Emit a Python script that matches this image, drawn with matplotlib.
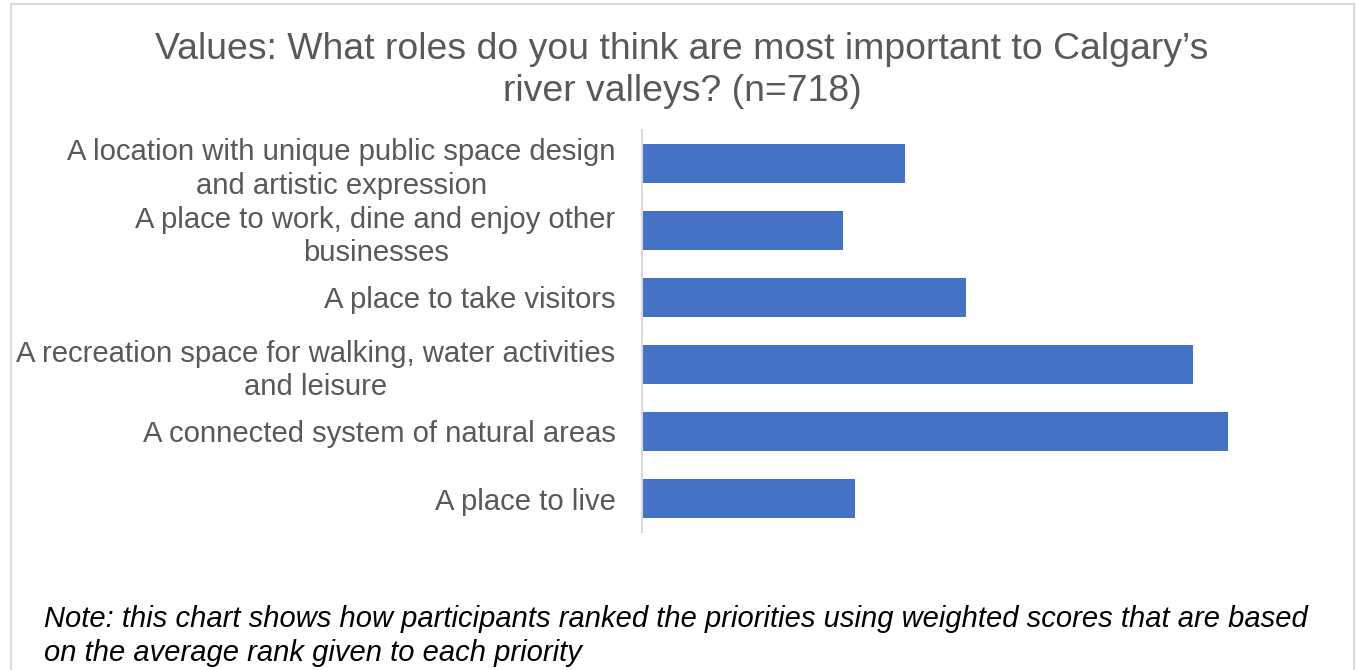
import matplotlib
matplotlib.use("Agg")
import matplotlib.pyplot as plt
from matplotlib.patches import Rectangle

categories = [
    "A location with unique public space design\nand artistic expression",
    "A place to work, dine and enjoy other\nbusinesses",
    "A place to take visitors",
    "A recreation space for walking, water activities\nand leisure",
    "A connected system of natural areas",
    "A place to live",
]
scores = [2.63, 2.01, 3.24, 5.51, 5.86, 2.13]

title = "Values: What roles do you think are most important to Calgary\u2019s\nriver valleys? (n=718)"
note = ("Note: this chart shows how participants ranked the priorities using weighted scores that are based\n"
        "on the average rank given to each priority")

W, H = 1356, 670
plt.rcParams['font.family'] = ['Liberation Sans', 'DejaVu Sans']
fig = plt.figure(figsize=(W / 100, H / 100), dpi=100)

def fx(px):
    return px / W

def fy(py):
    return 1 - py / H

ax = fig.add_axes([fx(642), fy(532), fx(1292) - fx(642), (532 - 130) / H])
ypos = list(range(len(categories)))
ax.barh(ypos, scores, height=0.58, color="#4472C4")
ax.set_xlim(0, 6.5)
ax.set_ylim(-0.5, len(categories) - 0.5)
ax.invert_yaxis()
ax.set_yticks(ypos)
ax.set_yticklabels(categories, fontsize=21.1, color="#595959", linespacing=1.24)
for t in ax.get_yticklabels():
    t.set_multialignment("center")
ax.tick_params(axis="y", length=0, pad=19)
ax.set_xticks([])
for s in ["top", "right", "bottom"]:
    ax.spines[s].set_visible(False)
ax.spines["left"].set_color("#D9D9D9")
ax.spines["left"].set_linewidth(1.5)

fig.text(fx(682), fy(70.5), title, ha="center", va="center", fontsize=26.9,
         color="#595959", linespacing=1.29)
fig.text(fx(44), fy(636), note, ha="left", va="center", fontsize=21,
         style="italic", color="black", linespacing=1.25)

fig.patches.append(Rectangle((fx(11), fy(700)), fx(1354) - fx(11), fy(4) - fy(700),
                             transform=fig.transFigure, fill=False,
                             edgecolor="#D9D9D9", linewidth=1.5))

fig.savefig("out.png", dpi=100, facecolor="white")
